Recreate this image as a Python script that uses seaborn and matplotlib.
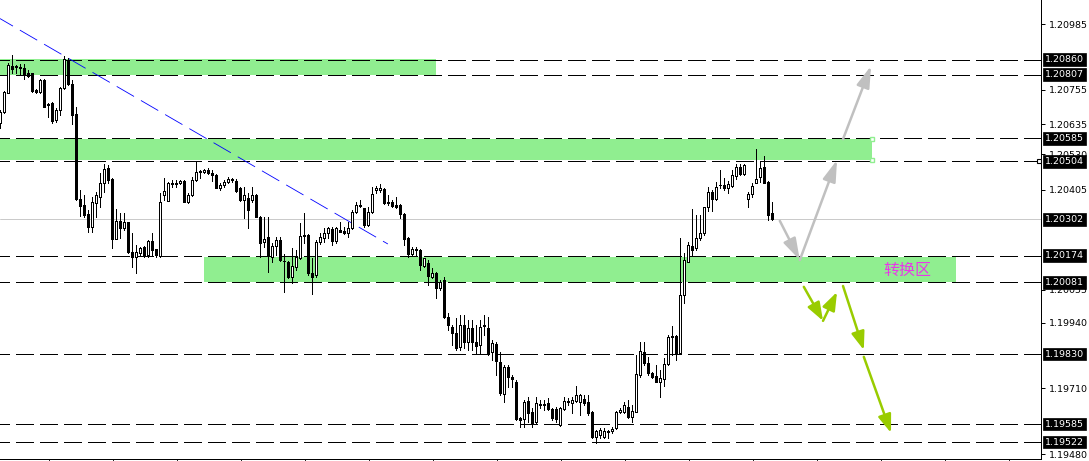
import numpy as np
import pandas as pd
import matplotlib
matplotlib.use("Agg")
import matplotlib.pyplot as plt
import seaborn as sns

# ---------------- data (prices) ----------------
opens = [
 1.20639,1.20677,1.20745,1.20838,1.20835,1.20835,1.20831,1.20814,1.20812,1.20754,
 1.20748,1.20789,1.20705,1.20707,1.20649,1.20684,1.20760,1.20856,1.20774,1.20670,
 1.20372,1.20351,1.20320,1.20273,1.20359,1.20380,1.20427,1.20480,1.20442,1.20233,
 1.20296,1.20270,1.20292,1.20187,1.20170,1.20184,1.20203,1.20177,1.20224,1.20196,
 1.20173,1.20386,1.20366,1.20428,1.20425,1.20427,1.20435,1.20363,1.20386,1.20439,
 1.20468,1.20468,1.20474,1.20462,1.20456,1.20412,1.20421,1.20433,1.20442,1.20436,
 1.20410,1.20369,1.20375,1.20369,1.20386,1.20310,1.20221,1.20240,1.20170,1.20209,
 1.20229,1.20155,1.20153,1.20100,1.20135,1.20165,1.20243,1.20246,1.20112,1.20106,
 1.20223,1.20235,1.20252,1.20266,1.20225,1.20264,1.20260,1.20252,1.20270,1.20328,
 1.20349,1.20340,1.20281,1.20326,1.20404,1.20404,1.20407,1.20363,1.20363,1.20351,
 1.20351,1.20319,1.20235,1.20179,1.20196,1.20194,1.20139,1.20147,1.20100,1.20112,
 1.20060,1.20089,1.19960,1.19925,1.19902,1.19853,1.19931,1.19873,1.19920,1.19873,
 1.19861,1.19928,1.19921,1.19838,1.19865,1.19803,1.19689,1.19783,1.19750,1.19733,
 1.19605,1.19601,1.19665,1.19628,1.19593,1.19651,1.19655,1.19657,1.19636,1.19636,
 1.19581,1.19636,1.19662,1.19657,1.19665,1.19663,1.19671,1.19663,1.19628,1.19538,
 1.19546,1.19540,1.19560,1.19560,1.19570,1.19628,1.19628,1.19645,1.19608,1.19628,
 1.19756,1.19836,1.19797,1.19762,1.19753,1.19733,1.19744,1.19794,1.19890,1.19893,
 1.19834,1.20036,1.20153,1.20208,1.20200,1.20235,1.20252,1.20343,1.20398,1.20372,
 1.20421,1.20421,1.20410,1.20418,1.20454,1.20483,1.20460,1.20372,1.20389,1.20427,
 1.20450,1.20483,1.20431,1.20322]
highs = [
 1.20684,1.20749,1.20849,1.20876,1.20841,1.20845,1.20845,1.20824,1.20814,1.20757,
 1.20792,1.20792,1.20709,1.20713,1.20690,1.20763,1.20873,1.20865,1.20789,1.20693,
 1.20404,1.20386,1.20334,1.20380,1.20398,1.20462,1.20495,1.20491,1.20445,1.20336,
 1.20322,1.20322,1.20293,1.20252,1.20211,1.20205,1.20208,1.20229,1.20252,1.20197,
 1.20392,1.20446,1.20432,1.20439,1.20439,1.20439,1.20439,1.20392,1.20450,1.20501,
 1.20474,1.20477,1.20480,1.20474,1.20459,1.20427,1.20439,1.20450,1.20447,1.20442,
 1.20416,1.20416,1.20392,1.20416,1.20390,1.20313,1.20310,1.20310,1.20217,1.20240,
 1.20238,1.20179,1.20155,1.20200,1.20194,1.20287,1.20322,1.20249,1.20165,1.20229,
 1.20252,1.20270,1.20275,1.20275,1.20275,1.20293,1.20275,1.20293,1.20334,1.20363,
 1.20369,1.20342,1.20345,1.20416,1.20418,1.20424,1.20410,1.20386,1.20369,1.20380,
 1.20354,1.20322,1.20240,1.20205,1.20205,1.20197,1.20156,1.20159,1.20130,1.20118,
 1.20089,1.20100,1.19972,1.19931,1.19955,1.19966,1.19966,1.19949,1.19949,1.19931,
 1.19949,1.19966,1.19958,1.19879,1.19872,1.19838,1.19791,1.19791,1.19756,1.19739,
 1.19610,1.19669,1.19680,1.19640,1.19680,1.19669,1.19669,1.19675,1.19640,1.19645,
 1.19645,1.19680,1.19675,1.19680,1.19718,1.19689,1.19686,1.19686,1.19630,1.19564,
 1.19570,1.19570,1.19564,1.19573,1.19630,1.19640,1.19663,1.19669,1.19651,1.19826,
 1.19873,1.19873,1.19820,1.19766,1.19791,1.19774,1.19815,1.19896,1.19928,1.19896,
 1.20235,1.20182,1.20223,1.20336,1.20316,1.20316,1.20345,1.20413,1.20404,1.20433,
 1.20474,1.20445,1.20436,1.20474,1.20495,1.20495,1.20495,1.20398,1.20429,1.20546,
 1.20503,1.20523,1.20436,1.20363]
lows = [
 1.20621,1.20674,1.20742,1.20815,1.20813,1.20806,1.20793,1.20800,1.20748,1.20742,
 1.20745,1.20693,1.20660,1.20637,1.20643,1.20666,1.20757,1.20771,1.20635,1.20369,
 1.20314,1.20310,1.20258,1.20258,1.20310,1.20345,1.20398,1.20427,1.20200,1.20231,
 1.20235,1.20264,1.20184,1.20135,1.20112,1.20176,1.20170,1.20170,1.20176,1.20170,
 1.20170,1.20369,1.20365,1.20415,1.20415,1.20424,1.20361,1.20357,1.20384,1.20435,
 1.20445,1.20462,1.20460,1.20436,1.20410,1.20404,1.20415,1.20427,1.20433,1.20398,
 1.20367,1.20305,1.20272,1.20363,1.20308,1.20170,1.20205,1.20118,1.20153,1.20176,
 1.20155,1.20046,1.20095,1.20077,1.20124,1.20162,1.20217,1.20106,1.20039,1.20100,
 1.20215,1.20223,1.20235,1.20211,1.20217,1.20256,1.20250,1.20240,1.20267,1.20322,
 1.20343,1.20275,1.20279,1.20322,1.20392,1.20398,1.20354,1.20351,1.20345,1.20340,
 1.20305,1.20211,1.20170,1.20176,1.20176,1.20124,1.20135,1.20071,1.20095,1.20025,
 1.20054,1.19955,1.19914,1.19861,1.19844,1.19844,1.19851,1.19844,1.19844,1.19833,
 1.19833,1.19896,1.19826,1.19809,1.19756,1.19686,1.19663,1.19713,1.19715,1.19599,
 1.19575,1.19575,1.19593,1.19575,1.19587,1.19640,1.19634,1.19634,1.19599,1.19593,
 1.19579,1.19634,1.19651,1.19622,1.19663,1.19616,1.19651,1.19616,1.19535,1.19517,
 1.19535,1.19535,1.19535,1.19554,1.19566,1.19622,1.19622,1.19605,1.19593,1.19626,
 1.19750,1.19791,1.19756,1.19746,1.19731,1.19680,1.19718,1.19791,1.19826,1.19809,
 1.19832,1.20007,1.20153,1.20173,1.20194,1.20229,1.20246,1.20331,1.20331,1.20369,
 1.20410,1.20404,1.20392,1.20416,1.20441,1.20456,1.20456,1.20345,1.20380,1.20427,
 1.20433,1.20427,1.20299,1.20298]
closes = [
 1.20677,1.20747,1.20840,1.20829,1.20838,1.20831,1.20810,1.20804,1.20751,1.20746,
 1.20789,1.20695,1.20700,1.20646,1.20684,1.20760,1.20861,1.20774,1.20666,1.20372,
 1.20349,1.20316,1.20273,1.20363,1.20386,1.20427,1.20477,1.20439,1.20233,1.20296,
 1.20270,1.20292,1.20187,1.20170,1.20187,1.20200,1.20173,1.20224,1.20194,1.20177,
 1.20363,1.20400,1.20427,1.20425,1.20428,1.20435,1.20363,1.20386,1.20439,1.20466,
 1.20470,1.20474,1.20462,1.20456,1.20412,1.20421,1.20433,1.20442,1.20438,1.20401,
 1.20369,1.20386,1.20334,1.20386,1.20310,1.20217,1.20231,1.20176,1.20209,1.20229,
 1.20159,1.20157,1.20100,1.20138,1.20170,1.20243,1.20245,1.20112,1.20100,1.20223,
 1.20240,1.20252,1.20270,1.20225,1.20270,1.20258,1.20252,1.20270,1.20328,1.20351,
 1.20350,1.20281,1.20326,1.20389,1.20410,1.20412,1.20357,1.20357,1.20349,1.20345,
 1.20319,1.20232,1.20179,1.20197,1.20194,1.20141,1.20165,1.20104,1.20112,1.20060,
 1.20083,1.19960,1.19931,1.19902,1.19850,1.19931,1.19873,1.19920,1.19873,1.19858,
 1.19925,1.19930,1.19833,1.19867,1.19805,1.19692,1.19783,1.19750,1.19741,1.19601,
 1.19599,1.19663,1.19624,1.19587,1.19657,1.19655,1.19651,1.19636,1.19605,1.19601,
 1.19640,1.19665,1.19665,1.19669,1.19686,1.19686,1.19657,1.19622,1.19538,1.19560,
 1.19564,1.19560,1.19558,1.19567,1.19626,1.19634,1.19651,1.19608,1.19630,1.19759,
 1.19840,1.19797,1.19762,1.19748,1.19733,1.19745,1.19794,1.19890,1.19893,1.19834,
 1.20036,1.20159,1.20211,1.20194,1.20235,1.20252,1.20343,1.20396,1.20372,1.20416,
 1.20423,1.20412,1.20425,1.20456,1.20483,1.20460,1.20491,1.20390,1.20418,1.20441,
 1.20480,1.20427,1.20316,1.20302]

level_prices = [1.20860, 1.20807, 1.20585, 1.20504, 1.20174, 1.20081, 1.19830, 1.19585, 1.19522]
current_price = 1.20302
scale_ticks = [1.20985, 1.20755, 1.20635, 1.20530, 1.20405, 1.20055, 1.19940, 1.19710, 1.19480]

zone_start = [-0.1, -0.1, 50.9]
zone_end = [108.9, 217.9, 238.9]
zone_low = [1.20805, 1.20509, 1.20083]
zone_high = [1.20864, 1.20583, 1.20171]

trend_x = [-0.075, 96.9]
trend_y = [1.21004, 1.20215]

gray_tails = [(194.9, 1.20296), (199.9, 1.20159), (210.7, 1.20582)]
gray_tips = [(199.9, 1.20159), (209.2, 1.20509), (217.7, 1.20838)]
green_tails = [(200.9, 1.20065), (205.7, 1.19946), (210.7, 1.20068), (215.9, 1.19820)]
green_tips = [(205.7, 1.19946), (209.2, 1.20047), (215.9, 1.19844), (222.7, 1.19554)]

zone_label = "转换区"
zone_label_pos = (226.7, 1.20124)

# ---------------- figure ----------------
sns.set_style("white")
plt.rcParams['font.family'] = ['DejaVu Sans', 'Noto Sans CJK SC']

W, H, DPI = 1089, 461, 100
fig = plt.figure(figsize=(W / DPI, H / DPI), dpi=DPI)
fig.patch.set_facecolor('white')
ax = fig.add_axes([0, 2 / H, 1041 / W, 459 / H])
ax.set_facecolor('white')
ax.set_xlim(-0.075, 260.2)
ax.set_ylim(1.194625, 1.21069)

# zones
for x0, x1, y0, y1 in zip(zone_start, zone_end, zone_low, zone_high):
    ax.fill_between([x0, x1], y0, y1, color='#90ee90', lw=0, zorder=1)
ax.plot([zone_end[1], zone_end[1]], [zone_low[1], zone_high[1]], ls='none',
        marker='s', ms=3, mfc='white', mec='#90ee90', mew=1, zorder=6)

# dashed level lines
px2pt = 72 / DPI
lw = 0.72
for p in level_prices:
    ax.axhline(p, color='black', lw=lw, zorder=2, antialiased=False,
               linestyle=(8 * px2pt / lw, (18 * px2pt / lw, 6 * px2pt / lw)))
ax.axhline(current_price, color='#c0c0c0', lw=0.6, zorder=2)

# blue trend line
tlw = 0.6
tdf = pd.DataFrame({'x': trend_x, 'y': trend_y})
sns.lineplot(data=tdf, x='x', y='y', ax=ax, color='#0000ff', lw=tlw, zorder=3,
             linestyle=(5 * px2pt / tlw, (20 * px2pt / tlw, 8 * px2pt / tlw)))

# candles
df = pd.DataFrame({'open': opens, 'high': highs, 'low': lows, 'close': closes})
df['idx'] = np.arange(len(df))
up = df['close'] >= df['open']
ax.vlines(df['idx'], df['low'], df['high'], color='black', lw=lw, zorder=4, antialiased=False)
bottom = np.minimum(df['open'], df['close'])
height = (df['close'] - df['open']).abs()
ax.bar(df['idx'][up], height[up], bottom=bottom[up], width=0.6, facecolor='white',
       edgecolor='black', linewidth=0.5, zorder=5, antialiased=False)
ax.bar(df['idx'][~up], height[~up], bottom=bottom[~up], width=0.6, facecolor='black',
       edgecolor='black', linewidth=0.5, zorder=5, antialiased=False)

# arrows
for t, h in zip(gray_tails, gray_tips):
    ax.annotate('', xy=h, xytext=t, zorder=7,
                arrowprops=dict(arrowstyle='-|>,head_length=1.3,head_width=0.4',
                                color='#c0c0c0', lw=1.8, shrinkA=0, shrinkB=0))
for t, h in zip(green_tails, green_tips):
    ax.annotate('', xy=h, xytext=t, zorder=7,
                arrowprops=dict(arrowstyle='-|>,head_length=1.1,head_width=0.4',
                                color='#99cc00', lw=1.8, shrinkA=0, shrinkB=0))

ax.text(zone_label_pos[0], zone_label_pos[1], zone_label, color='#e838e8',
        fontsize=11.5, family=['Noto Sans CJK SC', 'DejaVu Sans'],
        ha='center', va='center', zorder=8)

# axes styling
for s in ['left', 'top']:
    ax.spines[s].set_visible(False)
for s in ['right', 'bottom']:
    ax.spines[s].set_color('black')
    ax.spines[s].set_linewidth(lw)
ax.yaxis.tick_right()
ax.set_yticks(scale_ticks)
ax.set_yticklabels([f"{v:.5f}" for v in scale_ticks])
ax.tick_params(axis='y', direction='out', length=3, width=lw, pad=3,
               labelsize=6.8, colors='black', right=True, left=False)
xt = [12.175 + 16 * k for k in range(16)]
ax.set_xticks(xt)
ax.set_xticklabels([''] * len(xt))
ax.tick_params(axis='x', direction='out', length=3, width=lw, bottom=True)
ax.grid(False)
ax.set_xlabel('')
ax.set_ylabel('')

# price boxes on the scale
ytr = ax.get_yaxis_transform()
for p in level_prices + [current_price]:
    ax.text(1045 / 1041, p, f"{p:.5f}", transform=ytr, color='white', fontsize=6.8,
            ha='left', va='center', clip_on=False, zorder=10,
            bbox=dict(boxstyle='square,pad=0.2', fc='black', ec='black', lw=0.5))
ax.plot([259.7], [level_prices[3]], ls='none', marker='s', ms=3.5, mfc='white',
        mec='black', mew=0.8, zorder=9, clip_on=False)

fig.savefig('out.png', dpi=DPI, facecolor='white')
